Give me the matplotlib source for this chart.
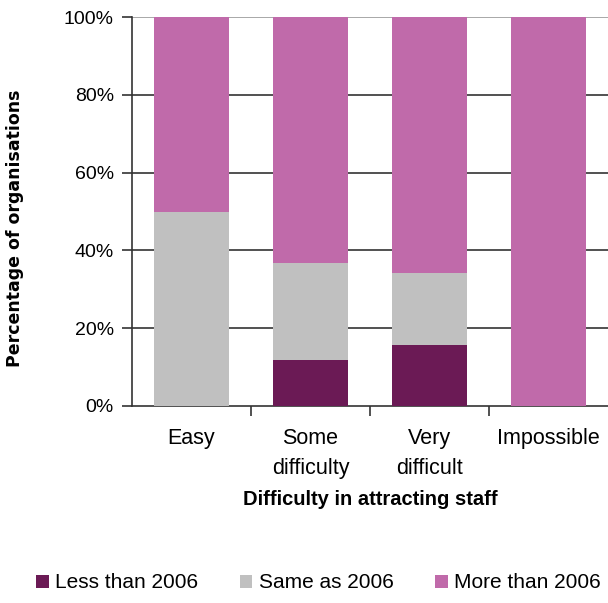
import numpy as np
import matplotlib
matplotlib.use("Agg")
import matplotlib.pyplot as plt
from matplotlib.ticker import FuncFormatter, FixedLocator

plt.rcParams['font.family'] = ['Liberation Sans', 'DejaVu Sans']

# data: share of organisations (%) by difficulty in attracting staff
categories = ['Easy', 'Some\ndifficulty', 'Very\ndifficult', 'Impossible']
less_than_2006 = [0, 11.7, 15.8, 0]
same_as_2006 = [50, 25.0, 18.4, 0]
more_than_2006 = [50, 63.3, 65.8, 100]

c_less = '#6b1a55'
c_same = '#c0c0c0'
c_more = '#c06aaa'

fig = plt.figure(figsize=(6.08, 6.03), dpi=100)
ax = fig.add_axes([132 / 608, 1 - 406 / 603, 1 - 132 / 608, (406 - 17) / 603])

x = np.arange(len(categories))
w = 0.63
less = np.array(less_than_2006)
same = np.array(same_as_2006)
more = np.array(more_than_2006)

ax.bar(x, less, w, color=c_less, label='Less than 2006', zorder=3)
ax.bar(x, same, w, bottom=less, color=c_same, label='Same as 2006', zorder=3)
ax.bar(x, more, w, bottom=less + same, color=c_more, label='More than 2006', zorder=3)

ax.set_xlim(-0.5, len(categories) - 0.5)
ax.set_ylim(0, 100)
ax.set_yticks(np.arange(0, 101, 20))
ax.yaxis.set_major_formatter(FuncFormatter(lambda v, p: f'{int(v)}%'))
for v in range(20, 81, 20):
    ax.axhline(v, color='#333333', lw=1.2, zorder=1)
ax.axhline(100, color='#999999', lw=1.2, zorder=1)

ax.set_xticks(x)
ax.set_xticklabels(categories, fontsize=15.5, linespacing=1.55)
ax.tick_params(axis='x', length=0, pad=16)
ax.xaxis.set_minor_locator(FixedLocator(x[:-1] + 0.5))
ax.tick_params(axis='x', which='minor', length=7, width=1.2, color='#333333')
ax.tick_params(axis='y', labelsize=14, length=7, width=1.2, color='#333333', pad=6)

for s in ['top', 'right']:
    ax.spines[s].set_visible(False)
for s in ['left', 'bottom']:
    ax.spines[s].set_color('#333333')
    ax.spines[s].set_linewidth(1.2)

ax.set_xlabel('Difficulty in attracting staff', fontsize=14.5, fontweight='bold', labelpad=8)
ax.set_ylabel('Percentage of organisations', fontsize=12.5, fontweight='bold',
              family=['DejaVu Sans'])
ax.yaxis.set_label_coords((24 - 132) / 476, (406 - 228) / 389)

fig.legend(loc='center', bbox_to_anchor=(318.5 / 608, 1 - 583 / 603), ncol=3, frameon=False,
           fontsize=15, handlelength=0.6, handleheight=0.6, handletextpad=0.3,
           columnspacing=2.0)

fig.savefig('out.png', dpi=100)
